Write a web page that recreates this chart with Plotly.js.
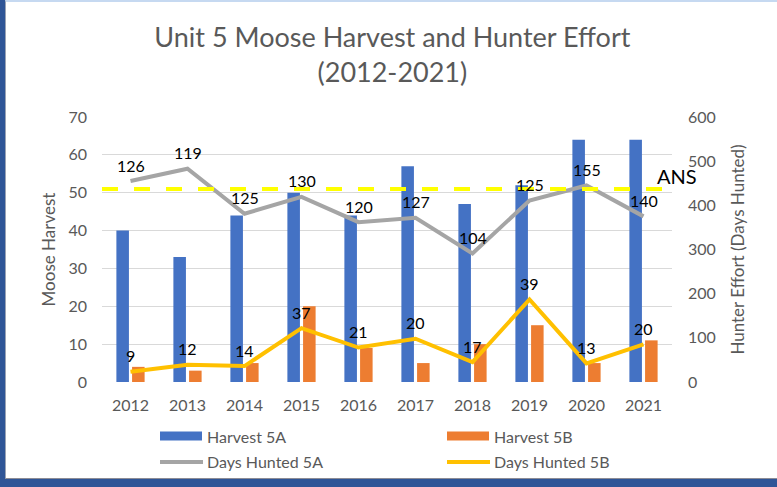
<!DOCTYPE html>
<html>
<head>
<meta charset="utf-8">
<script src="https://cdn.plot.ly/plotly-3.0.1.min.js"></script>
<style>
  html, body { margin:0; padding:0; }
  body { width:777px; height:487px; background:#2f5597; position:relative; overflow:hidden; }
  #frame { position:absolute; left:5px; top:0; width:771px; height:476px; background:#fff;
           border-top:2px solid #c6d9f1; border-left:1px solid #9aa3b5; border-bottom:1px solid #8c8c96; border-right:1px solid #e6e6f2; }
  #plot { position:absolute; left:0; top:0; width:777px; height:487px; }
</style>
</head>
<body>
<div id="frame"></div>
<div id="plot"></div>
<script>
(function(){
  const years = ['2012','2013','2014','2015','2016','2017','2018','2019','2020','2021'];
  const harvest5A = [40, 33, 44, 50, 44, 57, 47, 52, 64, 64];
  const harvest5B = [4, 3, 5, 20, 9, 5, 10, 15, 5, 11];
  const daysHunted5A = [455, 483, 381, 419, 362, 372, 291, 411, 445, 375];
  const daysHunted5B = [23, 39, 36, 122, 78, 98, 45, 187, 42, 85];
  const labels5A = ['126','119','125','130','120','127','104','125','155','140'];
  const labels5B = ['9','12','14','37','21','20','17','39','13','20'];
  const ansLevel = 51;

  const FONT = 'Lato, "Open Sans", sans-serif';
  const GREY = '#595959';

  // plot area in page pixels: x 102..672, y 117..382
  const L = 102, R = 672, T = 117, B = 382;
  const px = p => (p - L) / (R - L);
  const py = p => (B - p) / (B - T);

  const data = [
    { type:'bar', name:'Harvest 5A', x:years, y:harvest5A, marker:{ color:'#4472c4' }, showlegend:false },
    { type:'bar', name:'Harvest 5B', x:years, y:harvest5B, marker:{ color:'#ed7d31' }, showlegend:false },
    { type:'scatter', mode:'lines', name:'Days Hunted 5A', x:years, y:daysHunted5A, yaxis:'y2',
      line:{ color:'#a5a5a5', width:4 }, showlegend:false },
    { type:'scatter', mode:'lines', name:'Days Hunted 5B', x:years, y:daysHunted5B, yaxis:'y2',
      line:{ color:'#ffc000', width:4 }, showlegend:false }
  ];

  // point labels: category axis, so annotations take the category index
  const annotations = [];
  years.forEach((yr, i) => {
    annotations.push({ x:i, xref:'x', y:daysHunted5A[i], yref:'y2', text:labels5A[i], showarrow:false,
      yanchor:'middle', yshift:16, font:{ family:FONT, size:16, color:'#000' } });
    annotations.push({ x:i, xref:'x', y:daysHunted5B[i], yref:'y2', text:labels5B[i], showarrow:false,
      yanchor:'middle', yshift:16, font:{ family:FONT, size:16, color:'#000' } });
  });
  annotations.push({ x:px(655), xref:'paper', xanchor:'left', y:ansLevel, yref:'y', yshift:13,
    text:'ANS', showarrow:false, font:{ family:FONT, size:20, color:'#000' } });

  // legend drawn by hand: wide swatches like the original
  const legendItems = [
    { name:'Harvest 5A', color:'#4472c4', kind:'box', x:160, y:436 },
    { name:'Harvest 5B', color:'#ed7d31', kind:'box', x:447, y:436 },
    { name:'Days Hunted 5A', color:'#a5a5a5', kind:'line', x:160, y:461 },
    { name:'Days Hunted 5B', color:'#ffc000', kind:'line', x:447, y:461 }
  ];
  const shapes = [
    { type:'line', xref:'paper', yref:'y', x0:0, x1:px(675), y0:ansLevel, y1:ansLevel,
      line:{ color:'#ffff00', width:4, dash:'16px,16px' }, layer:'above' }
  ];
  legendItems.forEach(it => {
    if (it.kind === 'box') {
      shapes.push({ type:'rect', xref:'paper', yref:'paper', x0:px(it.x), x1:px(it.x + 42),
        y0:py(it.y + 4.5), y1:py(it.y - 4.5), fillcolor:it.color, line:{ width:0 } });
    } else {
      shapes.push({ type:'line', xref:'paper', yref:'paper', x0:px(it.x), x1:px(it.x + 43),
        y0:py(it.y + 1), y1:py(it.y + 1), line:{ color:it.color, width:4 } });
    }
    annotations.push({ xref:'paper', yref:'paper', x:px(it.x + 45), y:py(it.y), xanchor:'left', yanchor:'middle',
      text:it.name, showarrow:false, font:{ family:FONT, size:16, color:GREY } });
  });

  const layout = {
    width:777, height:487,
    title:{ text:'Unit 5 Moose Harvest and Hunter Effort<br>(2012-2021)', font:{ family:FONT, size:27, color:GREY },
      x:0.505, xanchor:'center', y:0.904, yanchor:'top' },
    font:{ family:FONT, color:GREY },
    paper_bgcolor:'rgba(0,0,0,0)', plot_bgcolor:'rgba(0,0,0,0)',
    margin:{ l:L, r:777 - R, t:T, b:487 - B, pad:0 },
    barmode:'group', bargap:0.45, bargroupgap:0.2,
    xaxis:{ type:'category', range:[-0.5, 9.5], showgrid:false, showline:false, ticks:'',
      tickfont:{ family:FONT, size:16, color:GREY }, ticklabelstandoff:12 },
    yaxis:{ range:[0,70], dtick:10, gridcolor:'#d9d9d9', gridwidth:1, zeroline:false, showline:false, ticks:'',
      tickfont:{ family:FONT, size:16, color:GREY }, ticklabelstandoff:14,
      title:{ text:'Moose Harvest', font:{ family:FONT, size:17, color:GREY }, standoff:8 } },
    yaxis2:{ overlaying:'y', side:'right', range:[0,600], dtick:100, showgrid:false, zeroline:false, showline:false, ticks:'',
      tickfont:{ family:FONT, size:16, color:GREY }, ticklabelstandoff:15,
      title:{ text:'Hunter Effort (Days Hunted)', font:{ family:FONT, size:17, color:GREY }, standoff:17 } },
    showlegend:false,
    shapes:shapes,
    annotations:annotations
  };

  Plotly.newPlot('plot', data, layout, { displayModeBar:false, responsive:false });
})();
</script>
</body>
</html>
